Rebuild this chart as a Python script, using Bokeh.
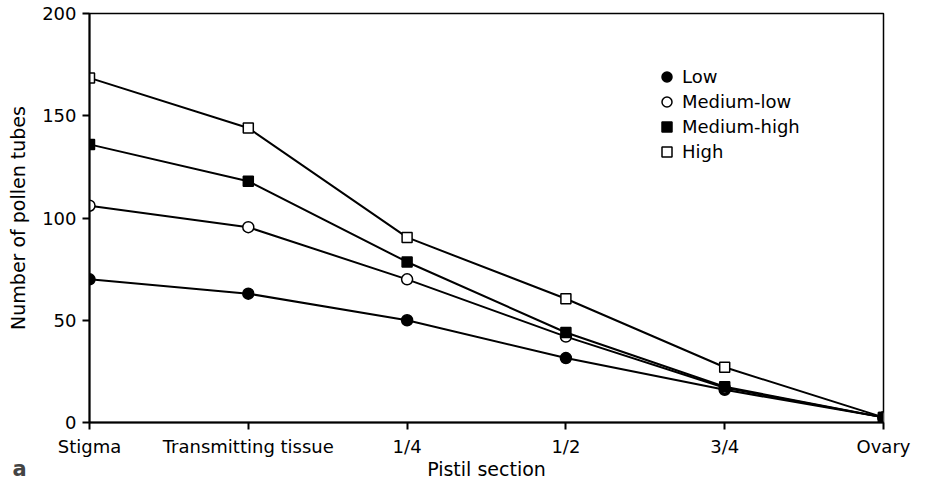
from bokeh.plotting import figure
from bokeh.models import Range1d, FixedTicker, Legend, LegendItem, Label
from bokeh.embed import file_html
from bokeh.resources import INLINE

sections = ["Stigma", "Transmitting tissue", "1/4", "1/2", "3/4", "Ovary"]
low = [70, 63, 50, 31.5, 16, 2.5]
medium_low = [106, 95.5, 70, 42, 17, 2.5]
medium_high = [136, 118, 78.5, 44, 17.5, 2.5]
high = [168.5, 144, 90.5, 60.5, 27, 2.5]
y_ticks = [0, 50, 100, 150, 200]

FONT = "DejaVu Sans"
xs = list(range(len(sections)))

p = figure(width=918, height=482, output_backend="svg", toolbar_location=None,
           x_range=Range1d(0, len(sections) - 1), y_range=Range1d(0, 200),
           min_border_left=89, min_border_right=35, min_border_top=13, min_border_bottom=59)
p.grid.visible = False
p.outline_line_color = "black"
p.outline_line_width = 1.5

p.xaxis.ticker = FixedTicker(ticks=xs)
p.xaxis.major_label_overrides = {i: s for i, s in enumerate(sections)}
p.yaxis.ticker = FixedTicker(ticks=y_ticks)
for ax in (p.xaxis, p.yaxis):
    ax.axis_line_width = 2
    ax.axis_line_color = "black"
    ax.major_tick_line_width = 2
    ax.major_tick_line_color = "black"
    ax.major_tick_out = 7
    ax.major_tick_in = 0
    ax.minor_tick_line_color = None
    ax.major_label_text_font = FONT
    ax.major_label_text_font_size = "18px"
    ax.major_label_text_color = "black"
    ax.axis_label_text_font = FONT
    ax.axis_label_text_font_size = "19px"
    ax.axis_label_text_font_style = "normal"
    ax.axis_label_text_color = "black"
p.xaxis.axis_label = "Pistil section"
p.yaxis.axis_label = "Number of pollen tubes"
p.xaxis.major_label_standoff = 6
p.xaxis.axis_label_standoff = -2
p.yaxis.major_label_standoff = 6
p.yaxis.axis_label_standoff = 10

series = [
    ("Low", low, "circle", "black", 11),
    ("Medium-low", medium_low, "circle", "white", 11),
    ("Medium-high", medium_high, "square", "black", 10),
    ("High", high, "square", "white", 10),
]
for name, vals, marker, fill, size in series:
    p.line(xs, vals, line_color="black", line_width=2)

renderers = {}
for name, vals, marker, fill, size in [series[3], series[0], series[1], series[2]]:
    r = p.scatter(xs, vals, marker=marker, size=size, fill_color=fill,
                  line_color="black", line_width=1.5)
    renderers[name] = r

legend = Legend(items=[LegendItem(label=s[0], renderers=[renderers[s[0]]]) for s in series],
                location=(565, 258), glyph_width=25, glyph_height=25, spacing=0,
                padding=0, margin=0, label_standoff=3, border_line_color=None,
                background_fill_alpha=0, label_text_font=FONT, label_text_color="black",
                label_text_font_size="18px", label_height=25)
p.add_layout(legend)

p.add_layout(Label(x=-871, y=-46, x_units="screen", y_units="screen", text="a",
                   text_font=FONT, text_font_size="21px", text_font_style="bold",
                   text_baseline="alphabetic"), "right")

open("out.html", "w").write(file_html(p, INLINE))
